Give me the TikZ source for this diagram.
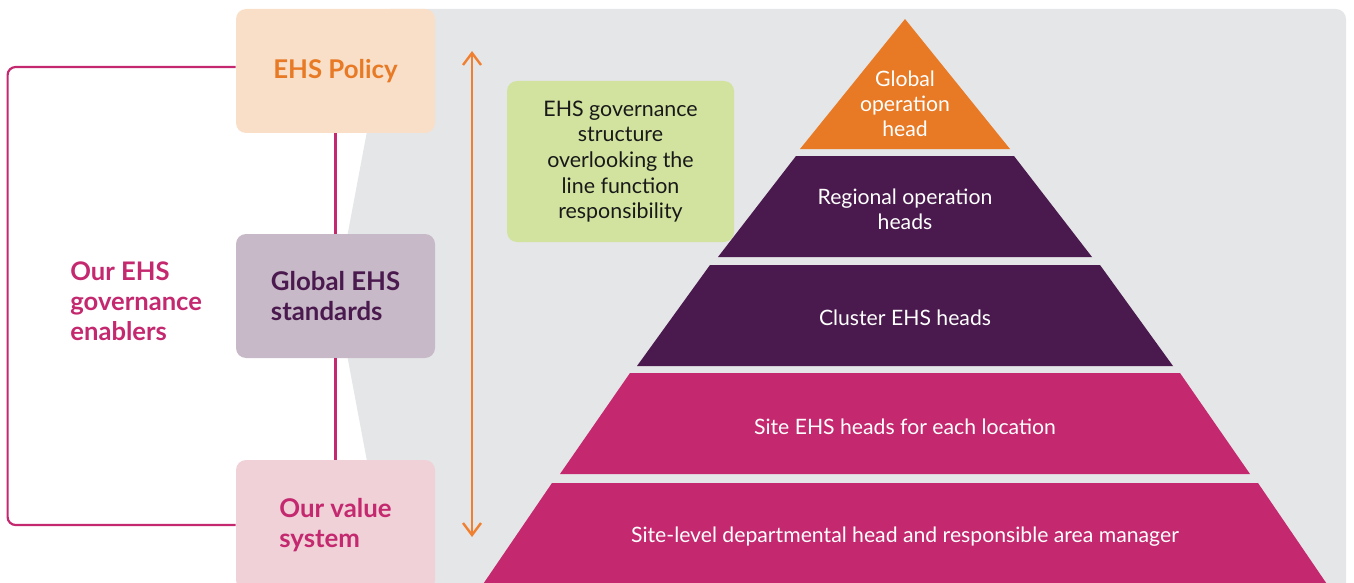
\documentclass[tikz,border=0pt]{standalone}
\usepackage{fontspec}
\setmainfont{Lato}
\definecolor{ehsorange}{RGB}{232, 122, 38}
\definecolor{ehsarrow}{RGB}{240, 128, 48}
\definecolor{ehsplum}{RGB}{74, 26, 78}
\definecolor{ehsmagenta}{RGB}{196, 40, 111}
\definecolor{policyfill}{RGB}{249, 223, 200}
\definecolor{standardfill}{RGB}{199, 185, 199}
\definecolor{valuefill}{RGB}{239, 209, 215}
\definecolor{panelgray}{RGB}{229, 230, 232}
\definecolor{notegreen}{RGB}{209, 227, 159}
\usetikzlibrary{arrows.meta, positioning}

\begin{document}
\begin{tikzpicture}[x=0.5pt, y=-0.5pt,
    enabler/.style={rounded corners=5pt, inner sep=0pt, minimum width=99.5pt, minimum height=62pt,
      align=left, font=\fontsize{12.9}{15}\selectfont\bfseries},
    pyrtext/.style={text=white, align=center, inner sep=0pt, font=\fontsize{10.6}{12.6}\selectfont},
    link/.style={draw=ehsmagenta, line width=1.1pt}]
  \useasboundingbox (0,0) rectangle (1354,583);
  \clip (0,0) rectangle (1354,583);

  % grey backdrop with the notch pointing at the standards box
  \fill[panelgray] (390,9) [rounded corners=5pt] -- (1346,9) -- (1346,600) [sharp corners] -- (393,600) -- (336,296) -- cycle;

  % enablers on the left
  \node[enabler, fill=policyfill, text=ehsorange] (policy) at (335.5,71) {EHS Policy};
  \node[enabler, fill=standardfill, text=ehsplum] (standards) at (335.5,296) {Global EHS\\standards};
  \node[enabler, fill=valuefill, text=ehsmagenta, minimum height=65pt] (values) at (335.5,525) {Our value\\system};
  \node[anchor=west, inner sep=0pt, align=left, text=ehsmagenta, font=\fontsize{12.8}{15}\selectfont\bfseries] (enablers) at (70,301) {Our EHS\\governance\\enablers};

  \draw[link] (policy.south) -- (standards.north);
  \draw[link] (standards.south) -- (values.north);
  \draw[link, rounded corners=4pt] ([yshift=2pt]policy.west) -- ++(-228,0) |- (values.west);

  % two-way arrow along the structure
  \coordinate (arrtop) at (472,51);
  \coordinate (arrbot) at (472,537);
  \draw[ehsarrow, line width=1.2pt, {Straight Barb[length=6pt, width=9pt]}-{Straight Barb[length=6pt, width=9pt]}] (arrtop) -- (arrbot);

  \node[fill=notegreen, rounded corners=5pt, inner sep=0pt, minimum width=113.5pt, minimum height=80.5pt,
    align=center, font=\fontsize{10.7}{12.85}\selectfont, text=black!90] (note) at (620.5,161.5)
    {EHS governance\\structure\\overlooking the\\line function\\responsibility};

  % pyramid layers
  \fill[ehsorange] (905,19) -- (1010,149) -- (800,149) -- cycle;
  \fill[ehsplum] (796,156) -- (1014,156) -- (1092,257) -- (718,257) -- cycle;
  \fill[ehsplum] (710,265) -- (1100,265) -- (1173,366) -- (637,366) -- cycle;
  \fill[ehsmagenta] (630,373) -- (1180,373) -- (1250,474) -- (560,474) -- cycle;
  \fill[ehsmagenta] (552,483) -- (1258,483) -- (1333,593) -- (477,593) -- cycle;

  \node[pyrtext] (globalhead) at (905,104) {Global\\operation\\head};
  \node[pyrtext] (regionalheads) at (905,209) {Regional operation\\heads};
  \node[pyrtext] (clusterheads) at (905,318) {Cluster EHS heads};
  \node[pyrtext] (siteheads) at (905,427) {Site EHS heads for each location};
  \node[pyrtext] (depthead) at (905,537) {Site-level departmental head and responsible area manager};
\end{tikzpicture}
\end{document}
